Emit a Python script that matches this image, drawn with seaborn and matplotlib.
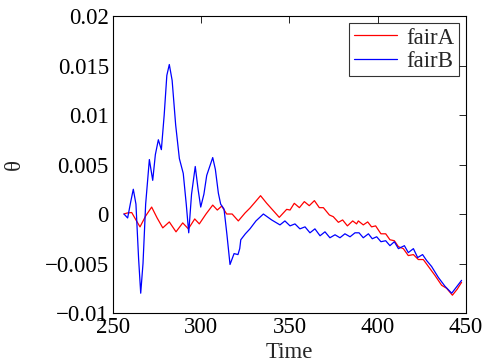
import matplotlib
matplotlib.use("Agg")
import matplotlib.pyplot as plt
import seaborn as sns
import pandas as pd

# fairA (red) series: time, theta
time_a = [256.2, 258.0, 260.6, 263.0, 265.3, 268.5, 271.9, 275.0, 278.2, 281.9,
          285.7, 289.5, 292.7, 296.3, 298.9, 302.7, 306.5, 309.1, 311.6, 314.4,
          317.5, 321.0, 324.8, 327.6, 330.5, 333.6, 337.0, 340.5, 344.2, 348.4,
          350.3, 352.7, 355.6, 358.4, 361.2, 364.1, 366.9, 369.2, 372.6, 374.8,
          377.7, 380.1, 382.8, 385.8, 388.0, 389.0, 391.8, 394.3, 396.5, 398.8,
          401.8, 404.5, 406.9, 409.4, 411.7, 414.5, 417.3, 420.2, 423.0, 425.8,
          428.7, 432.4, 436.2, 439.0, 442.3, 445.0, 447.5]
theta_a = [0.0, 0.0001, 0.00015, -0.0006, -0.0013, -0.0002, 0.0007, -0.0004, -0.0014, -0.0008,
           -0.0018, -0.0009, -0.0015, -0.0005, -0.0010, 0.0000, 0.0009, 0.0004, 0.0008, 0.0000,
           0.0000, -0.0007, 0.0001, 0.0006, 0.0012, 0.00185, 0.0011, 0.0004, -0.00034, 0.00047,
           0.0004, 0.00108, 0.00064, 0.00125, 0.00084, 0.00135, 0.00064, 0.00064, -0.0001, -0.00027,
           -0.00084, -0.0006, -0.0012, -0.0007, -0.0010, -0.0007, -0.0011, -0.0008, -0.0013, -0.0012,
           -0.0020, -0.0020, -0.0026, -0.0027, -0.0033, -0.0035, -0.0042, -0.0041, -0.0046, -0.0046,
           -0.0053, -0.0062, -0.0072, -0.0075, -0.0082, -0.0076, -0.0069]

# fairB (blue) series: time, theta
time_b = [256.2, 258.3, 260.0, 261.5, 263.0, 264.5, 265.7, 267.0, 268.5, 270.6,
          272.5, 274.0, 275.7, 277.4, 279.0, 280.5, 281.9, 283.5, 285.5, 287.6,
          289.8, 291.5, 292.9, 294.5, 296.6, 298.2, 299.7, 301.5, 303.1, 306.5,
          308.0, 309.7, 311.0, 312.9, 314.5, 316.3, 318.6, 320.8, 321.8, 322.4,
          325.0, 327.6, 331.0, 335.2, 339.9, 344.6, 347.4, 350.3, 353.1, 355.9,
          358.8, 361.6, 364.4, 367.3, 370.1, 372.9, 375.8, 378.6, 381.4, 384.3,
          387.1, 389.4, 391.8, 394.7, 396.9, 399.4, 401.8, 404.5, 406.9, 409.4,
          411.7, 415.1, 417.3, 420.2, 422.6, 425.4, 427.7, 430.5, 434.3, 438.1,
          441.9, 444.5, 447.5]
theta_b = [0.0, -0.0004, 0.0012, 0.0025, 0.0010, -0.0045, -0.0080, -0.0050, 0.0010, 0.0055,
           0.0034, 0.0060, 0.0075, 0.0065, 0.0100, 0.0140, 0.0151, 0.0135, 0.0090, 0.0056,
           0.0041, 0.0010, -0.0019, 0.0020, 0.0048, 0.0025, 0.0007, 0.0020, 0.0039, 0.0057,
           0.0045, 0.0021, 0.0010, 0.0005, -0.0020, -0.0051, -0.0040, -0.0041, -0.0035, -0.0026,
           -0.0020, -0.0015, -0.0007, 0.0000, -0.0006, -0.0011, -0.0007, -0.0012, -0.0010, -0.0015,
           -0.0013, -0.0019, -0.0015, -0.0022, -0.0018, -0.0024, -0.0021, -0.0024, -0.0020, -0.0023,
           -0.0019, -0.0019, -0.0024, -0.0020, -0.0025, -0.0023, -0.0028, -0.0027, -0.0032, -0.0028,
           -0.0035, -0.0032, -0.0039, -0.0035, -0.0044, -0.0041, -0.0047, -0.0053, -0.0064, -0.0073,
           -0.0080, -0.0074, -0.0067]

series_names = ["fairA", "fairB"]
x_ticks = [250, 300, 350, 400, 450]
y_ticks = [-0.01, -0.005, 0, 0.005, 0.01, 0.015, 0.02]
y_tick_labels = ["\u22120.01", "\u22120.005", "0", "0.005", "0.01", "0.015", "0.02"]

df = pd.concat([
    pd.DataFrame({"Time": time_a, "theta": theta_a, "series": series_names[0]}),
    pd.DataFrame({"Time": time_b, "theta": theta_b, "series": series_names[1]}),
], ignore_index=True)

sns.set_style("white")
plt.rcParams["font.family"] = ["Liberation Serif", "DejaVu Serif"]

fig = plt.figure(figsize=(4.85, 3.62), dpi=100)
ax = fig.add_axes([113 / 485, 49 / 362, 353 / 485, 297 / 362])

sns.lineplot(data=df, x="Time", y="theta", hue="series",
             palette={"fairA": "#ff0000", "fairB": "#0000ff"},
             linewidth=0.9, ax=ax, sort=False, estimator=None)

ax.set_xlim(250, 450)
ax.set_ylim(-0.01, 0.02)
ax.set_xticks(x_ticks)
ax.set_xticklabels([str(t) for t in x_ticks])
ax.set_yticks(y_ticks)
ax.set_yticklabels(y_tick_labels)

ax.tick_params(direction="in", length=5, width=0.6, top=True, right=True,
               labelsize=16.5, colors="black", pad=3)
for s in ax.spines.values():
    s.set_visible(True)
    s.set_color("black")
    s.set_linewidth(0.8)

ax.set_xlabel("Time", fontsize=16.5)
ax.xaxis.set_label_coords(0.5, -0.098)
ax.set_ylabel("\u03b8", fontsize=16.5)
ax.yaxis.set_label_coords(-0.25, 0.5)

leg = ax.legend(loc="upper right", fontsize=16.5, frameon=True, fancybox=False,
                edgecolor="black", handlelength=1.9, handletextpad=0.4,
                borderpad=0.2, labelspacing=0.1, borderaxespad=0.3)
leg.get_frame().set_linewidth(0.8)
leg.set_title(None)

fig.savefig("out.png", dpi=100, facecolor="white")
